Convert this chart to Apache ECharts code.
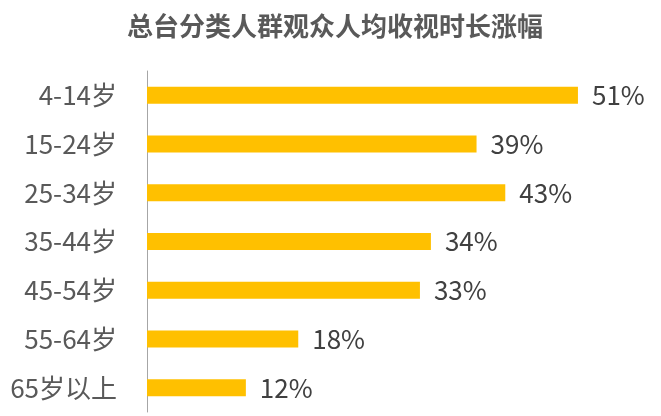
<!DOCTYPE html>
<html>
<head>
<meta charset="utf-8">
<script src="https://cdn.jsdelivr.net/npm/echarts@6/dist/echarts.min.js"></script>
<style>
html,body{margin:0;padding:0;background:#fff;}
#chart{width:661px;height:416px;}
</style>
</head>
<body>
<div id="chart"></div>
<script>
const titleText = '总台分类人群观众人均收视时长涨幅';
const categories = ['4-14岁', '15-24岁', '25-34岁', '35-44岁', '45-54岁', '55-64岁', '65岁以上'];
// bar lengths (percent)
const growthPct = [51.0, 39.0, 42.4, 33.6, 32.3, 17.9, 11.7];
// printed labels (percent)
const growthLabels = ['51%', '39%', '43%', '34%', '33%', '18%', '12%'];

const chart = echarts.init(document.getElementById('chart'));
chart.setOption({
  animation: false,
  backgroundColor: '#ffffff',
  title: {
    text: titleText,
    left: 122,
    top: 6,
    textStyle: {
      fontFamily: 'Noto Sans CJK SC',
      fontSize: 26,
      fontWeight: 'bold',
      color: '#595959',
      lineHeight: 30
    }
  },
  grid: {
    left: 147,
    right: 7,
    top: 71,
    bottom: 4,
    containLabel: false
  },
  xAxis: {
    type: 'value',
    min: 0,
    max: 60,
    show: false
  },
  yAxis: {
    type: 'category',
    data: categories,
    inverse: true,
    axisLine: { show: true, lineStyle: { color: '#a6a6a6', width: 1 } },
    axisTick: { show: false },
    axisLabel: {
      margin: 30,
      fontFamily: 'Noto Sans CJK SC',
      fontSize: 26,
      color: '#595959'
    }
  },
  series: [{
    type: 'bar',
    data: growthPct,
    barWidth: 17,
    itemStyle: { color: '#FFC000' },
    label: {
      show: true,
      position: 'right',
      distance: 14,
      formatter: function (p) { return growthLabels[p.dataIndex]; },
      fontFamily: 'Noto Sans CJK SC',
      fontSize: 26,
      color: '#404040'
    }
  }]
});
</script>
</body>
</html>
